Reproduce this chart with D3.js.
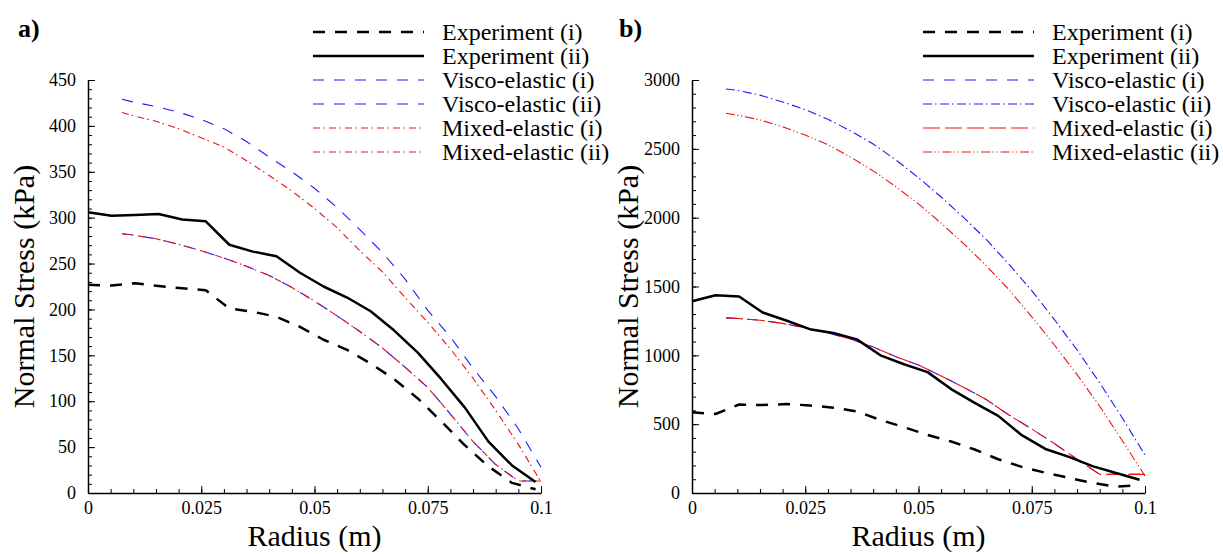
<!DOCTYPE html>
<html>
<head>
  <title>Normal Stress vs Radius</title>
  <meta charset="utf-8">
  <script type="text/javascript" src="https://d3js.org/d3.v7.min.js"></script>
  <style>
    body { margin: 0; background: #fff; }
    svg text { font-family: "Liberation Serif", "Tinos", "Times New Roman", "DejaVu Serif", serif; fill: #000; }
  </style>
</head>
<body>
  <svg id="chart" width="1223" height="554"></svg>

  <script type="text/javascript">
    "use strict";

    var serif = '"Liberation Serif", "Tinos", "Times New Roman", "DejaVu Serif", serif';

    // radii of the measured points (m)
    var radiusExp = [0, 0.0052, 0.0104, 0.0156, 0.0208, 0.026, 0.0312, 0.0364, 0.0416, 0.0468,
                     0.052, 0.0572, 0.0624, 0.0676, 0.0728, 0.078, 0.0832, 0.0884, 0.0936, 0.0988];
    // radii of the model curves (m)
    var radiusModel = [0.0075, 0.01, 0.015, 0.02, 0.025, 0.03, 0.035, 0.04, 0.045, 0.05,
                       0.055, 0.06, 0.065, 0.07, 0.075, 0.08, 0.085, 0.09, 0.095, 0.1];

    // panel a) values in kPa
    var aExpI  = [227, 226, 228.5, 225.5, 223, 221, 201, 197.5, 192, 181,
                  167, 156, 141, 124, 103, 78, 52, 29, 11, 4];
    var aExpII = [306, 302, 303, 304, 298, 296, 270.5, 263, 258, 240,
                  225, 213, 198, 177, 153, 124, 93, 56, 30, 12];
    var aViscoI  = [282.5, 281, 277, 271, 264, 256, 247, 237, 224, 209,
                    193, 176, 158, 137, 115, 86, 56, 31, 13, 13];
    var aViscoII = [429, 426, 421, 415, 407, 397, 383, 366, 350, 332,
                    311, 287, 262, 233, 199, 170, 136, 105, 70, 28];
    var aMixedI  = aViscoI;   // both curves lie on top of each other
    var aMixedII = [414.5, 411, 405, 397, 387, 377, 362, 346, 329, 310,
                    289, 264, 241, 213, 186, 157, 125, 90, 53, 12];

    // panel b) values in kPa
    var bExpI  = [586, 574, 643, 639, 646, 636, 620, 593, 530, 478,
                  422, 374, 316, 245, 190, 147, 110, 73, 46, 58];
    var bExpII = [1393, 1436, 1427, 1311, 1253, 1190, 1162, 1116, 1000, 935,
                  878, 755, 655, 560, 420, 320, 262, 195, 145, 96];
    var bViscoI  = [1272, 1268, 1255, 1232, 1200, 1162, 1118, 1060, 990, 930,
                    850, 767, 678, 566, 465, 359, 245, 135, 135, 135];
    var bViscoII = [2935, 2925, 2890, 2840, 2785, 2715, 2630, 2535, 2420, 2290,
                    2150, 2000, 1840, 1660, 1470, 1260, 1040, 800, 545, 276];
    var bMixedI  = bViscoI;   // both curves lie on top of each other
    var bMixedII = [2758, 2745, 2710, 2660, 2600, 2530, 2440, 2340, 2225, 2100,
                    1960, 1810, 1650, 1475, 1280, 1075, 860, 630, 380, 123];

    // tick labels
    var xTickValues = [0, 0.025, 0.05, 0.075, 0.1];
    var xTickLabels = ["0", "0.025", "0.05", "0.075", "0.1"];
    var aYTicks = [0, 50, 100, 150, 200, 250, 300, 350, 400, 450];
    var bYTicks = [0, 500, 1000, 1500, 2000, 2500, 3000];

    var legendNames = ["Experiment (i)", "Experiment (ii)", "Visco-elastic (i)",
                       "Visco-elastic (ii)", "Mixed-elastic (i)", "Mixed-elastic (ii)"];

    // line styles
    var styles = {
      expDash:   { color: "#000", width: 2.5, dash: "12,10" },
      expSolid:  { color: "#000", width: 2.5, dash: null },
      blueDash:  { color: "#1a1aff", width: 1.1, dash: "11,10" },
      blueDashDot: { color: "#1a1aff", width: 1.1, dash: "9,3,1.5,3.5" },
      redDashDot:  { color: "#ee1111", width: 1.1, dash: "7,3,1.5,4.5" },
      redLong:     { color: "#ee1111", width: 1.1, dash: "17,5" },
      redDashDotDot: { color: "#ee1111", width: 1.1, dash: "9,2.5,1.2,2.5,1.2,3" }
    };

    var svg = d3.select("#chart");
    var plotTop = 80, plotBottom = 493, plotWidth = 453;

    function zip(xs, ys) {
      return xs.map(function(d, i) { return [d, ys[i]]; });
    }

    function drawPanel(cfg) {
      var x = d3.scaleLinear().domain([0, 0.1]).range([cfg.left, cfg.left + plotWidth]);
      var y = d3.scaleLinear().domain([0, cfg.yMax]).range([plotBottom, plotTop]);
      var g = svg.append("g");

      // minor ticks
      g.append("g").attr("transform", "translate(0," + plotBottom + ")")
        .call(d3.axisBottom(x).tickValues(d3.range(0, 0.1001, 0.005))
          .tickSize(-4).tickSizeOuter(0).tickFormat(""))
        .call(function(s) { s.select(".domain").remove(); });
      g.append("g").attr("transform", "translate(" + cfg.left + ",0)")
        .call(d3.axisLeft(y).tickValues(d3.range(0, cfg.yMax + 1, cfg.yMinor))
          .tickSize(-4).tickSizeOuter(0).tickFormat(""))
        .call(function(s) { s.select(".domain").remove(); });

      // major ticks with labels
      var xAxis = g.append("g").attr("transform", "translate(0," + plotBottom + ")")
        .call(d3.axisBottom(x).tickValues(xTickValues).tickSize(-7).tickSizeOuter(0)
          .tickPadding(8).tickFormat(function(d, i) { return xTickLabels[i]; }));
      var yAxis = g.append("g").attr("transform", "translate(" + cfg.left + ",0)")
        .call(d3.axisLeft(y).tickValues(cfg.yTicks).tickSize(-7).tickSizeOuter(0)
          .tickPadding(12).tickFormat(function(d) { return String(d); }));
      [xAxis, yAxis].forEach(function(a) {
        a.attr("font-family", serif);
        a.selectAll("text").attr("font-size", 18).style("font-family", serif);
        a.select(".domain").attr("stroke-width", 1.5);
      });
      g.selectAll(".tick line").attr("stroke-width", 1);

      // axis titles
      g.append("text").attr("x", cfg.left + plotWidth / 2).attr("y", 546)
        .attr("text-anchor", "middle").style("font-family", serif)
        .style("font-size", "30px").text("Radius (m)");
      g.append("text")
        .attr("transform", "translate(" + cfg.yTitleX + "," + ((plotTop + plotBottom) / 2) + ") rotate(-90)")
        .attr("text-anchor", "middle").style("font-family", serif)
        .style("font-size", "30px").text("Normal Stress (kPa)");

      // panel label
      g.append("text").attr("x", cfg.labelX).attr("y", 37).style("font-family", serif)
        .style("font-size", "26px").style("font-weight", "bold").text(cfg.label);

      // curves
      var line = d3.line().x(function(d) { return x(d[0]); }).y(function(d) { return y(d[1]); });
      cfg.series.forEach(function(s) {
        var st = styles[s.style];
        g.append("path").datum(s.data)
          .attr("d", line)
          .attr("fill", "none")
          .attr("stroke", st.color)
          .attr("stroke-width", st.width)
          .attr("stroke-dasharray", st.dash)
          .attr("stroke-linejoin", "round");
      });

      // legend
      var leg = g.append("g");
      cfg.legend.forEach(function(key, i) {
        var st = styles[key];
        var ly = 32 + i * 24;
        leg.append("line")
          .attr("x1", cfg.legendX).attr("x2", cfg.legendX + 111)
          .attr("y1", ly).attr("y2", ly)
          .attr("stroke", st.color).attr("stroke-width", st.width)
          .attr("stroke-dasharray", st.dash);
        leg.append("text").attr("x", cfg.legendX + 129).attr("y", ly + 8)
          .style("font-family", serif)
          .style("font-size", "24px").text(legendNames[i]);
      });
    }

    drawPanel({
      left: 88, yMax: 450, yMinor: 10, yTicks: aYTicks, yTitleX: 34,
      label: "a)", labelX: 18, legendX: 313,
      series: [
        { style: "blueDash", data: zip(radiusModel, aViscoI) },
        { style: "redDashDot", data: zip(radiusModel, aMixedI) },
        { style: "blueDash", data: zip(radiusModel, aViscoII) },
        { style: "redDashDot", data: zip(radiusModel, aMixedII) },
        { style: "expDash", data: zip(radiusExp, aExpI) },
        { style: "expSolid", data: zip(radiusExp, aExpII) }
      ],
      legend: ["expDash", "expSolid", "blueDash", "blueDash", "redDashDot", "redDashDot"]
    });

    drawPanel({
      left: 692, yMax: 3000, yMinor: 100, yTicks: bYTicks, yTitleX: 638,
      label: "b)", labelX: 619, legendX: 923,
      series: [
        { style: "blueDash", data: zip(radiusModel, bViscoI) },
        { style: "redLong", data: zip(radiusModel, bMixedI) },
        { style: "blueDashDot", data: zip(radiusModel, bViscoII) },
        { style: "redDashDotDot", data: zip(radiusModel, bMixedII) },
        { style: "expDash", data: zip(radiusExp, bExpI) },
        { style: "expSolid", data: zip(radiusExp, bExpII) }
      ],
      legend: ["expDash", "expSolid", "blueDash", "blueDashDot", "redLong", "redDashDotDot"]
    });
  </script>
</body>
</html>
